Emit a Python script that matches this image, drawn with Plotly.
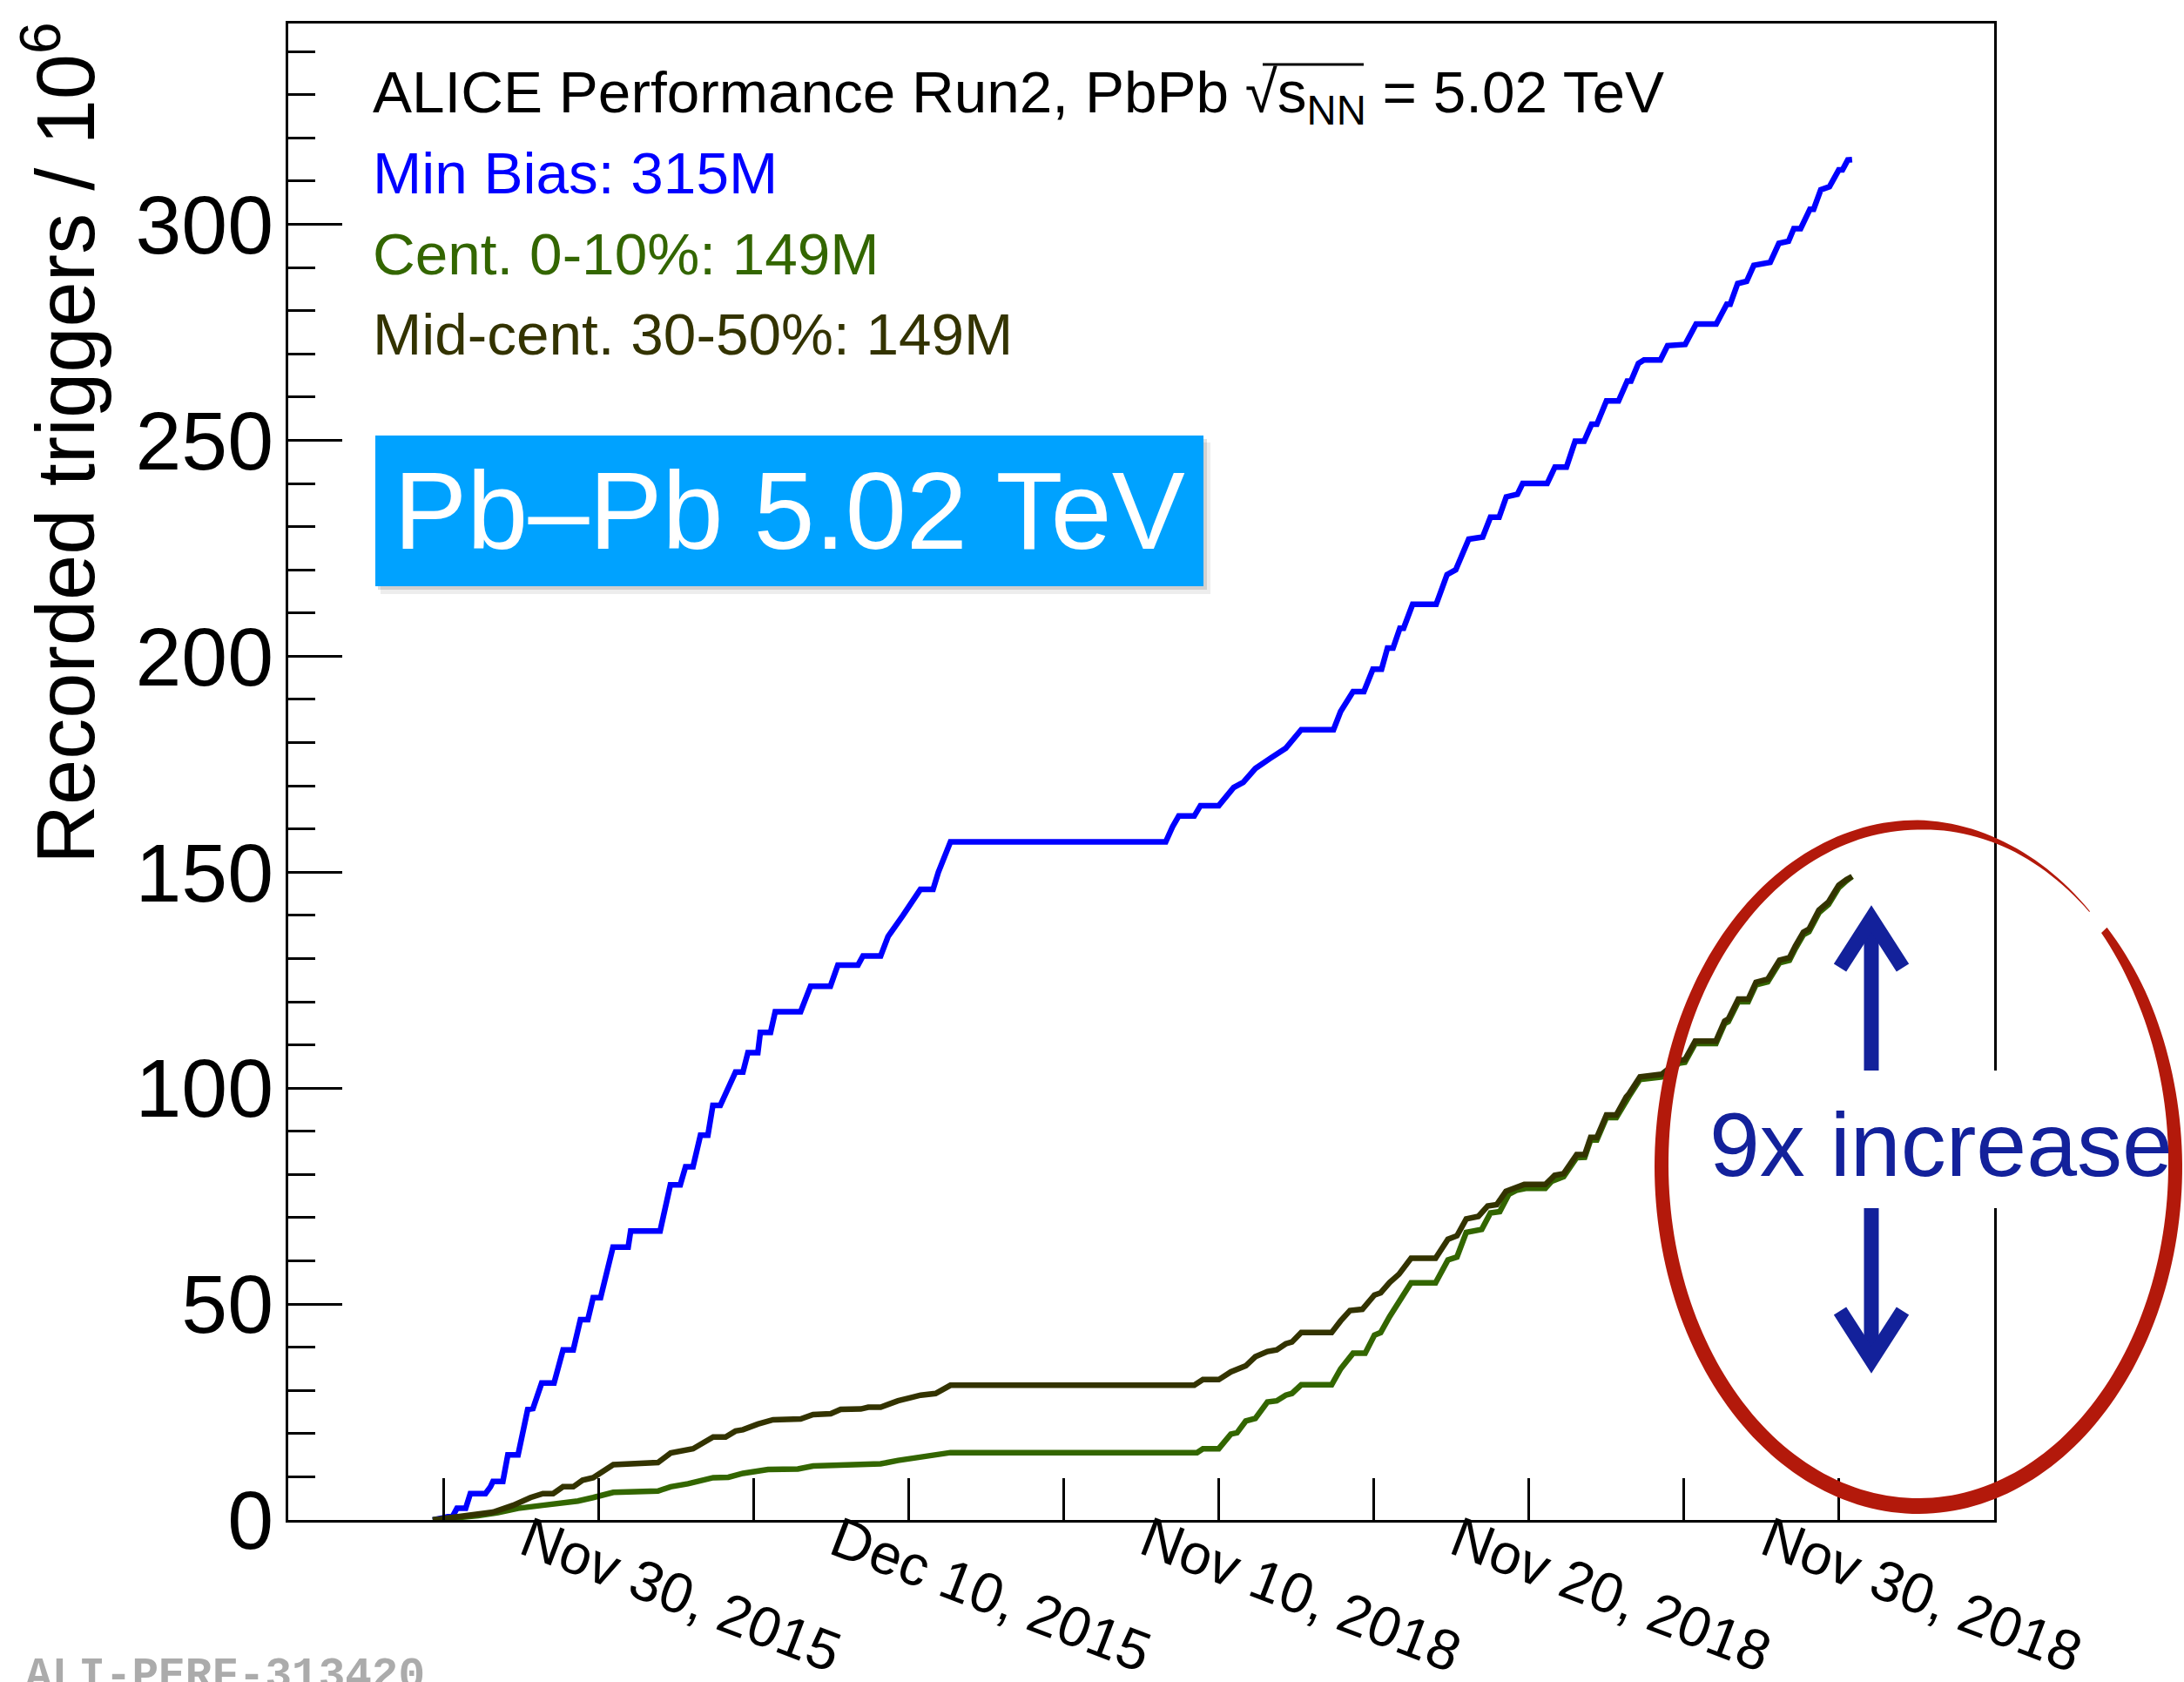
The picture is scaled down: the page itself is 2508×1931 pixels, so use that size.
import math
import plotly.graph_objects as go

# ---------------------------------------------------------------------------
# Time axis in "display days": day 0 = Nov 25 2015, 5 days per major tick.
# The shutdown between the 2015 and 2018 Pb-Pb runs is compressed so that
# Nov 10 2018 sits on day 25.
# ---------------------------------------------------------------------------
tick_days = [0, 5, 10, 15, 20, 25, 30, 35, 40, 45]
label_days = [5, 15, 25, 35, 45]
date_labels = ["Nov 30, 2015", "Dec 10, 2015", "Nov 10, 2018",
               "Nov 20, 2018", "Nov 30, 2018"]

# Min. bias triggers (10^6)
mb_day = [-0.34, -0.01, 0.31, 0.44, 0.72, 0.87, 1.36, 1.52, 1.6, 1.92, 2.08, 2.41,
          2.72, 2.89, 3.17, 3.57, 3.86, 4.19, 4.42, 4.66, 4.83, 5.07, 5.47, 5.96,
          6.04, 6.99, 7.32, 7.64, 7.81, 8.05, 8.29, 8.53, 8.69, 8.93, 9.42, 9.66,
          9.82, 10.14, 10.22, 10.55, 10.7, 11.52, 11.84, 12.48, 12.72, 13.37, 13.53,
          14.1, 14.34, 14.82, 15.38, 15.79, 15.96, 16.35,
          23.29, 23.51, 23.71, 24.21, 24.41, 25.0, 25.2, 25.48, 25.79, 26.18, 26.67,
          27.16, 27.66, 28.7, 28.93, 29.33, 29.68, 29.97, 30.25, 30.44, 30.62, 30.84,
          30.96, 31.25, 32.01, 32.36, 32.64, 33.06, 33.51, 33.76, 34.04, 34.27, 34.63,
          34.8, 35.59, 35.84, 36.21, 36.49, 36.78, 37.02, 37.19, 37.5, 37.89, 38.17,
          38.29, 38.53, 38.71, 39.24, 39.47, 40.04, 40.39, 41.04, 41.38, 41.49, 41.73,
          42.02, 42.25, 42.78, 43.06, 43.37, 43.54, 43.76, 44.06, 44.18, 44.41, 44.69,
          44.99, 45.11, 45.28, 45.42]
mb_trig = [0.0, 0.4, 1.0, 2.7, 2.7, 6.1, 6.1, 7.7, 8.9, 8.9, 15.1, 15.1,
           25.6, 25.8, 31.7, 31.7, 39.4, 39.4, 46.4, 46.4, 51.5, 51.5, 63.2, 63.2,
           66.9, 66.9, 77.6, 77.6, 81.8, 81.8, 89.1, 89.1, 96.0, 96.0, 103.7, 103.7,
           108.2, 108.2, 112.9, 112.9, 117.7, 117.7, 123.6, 123.6, 128.5, 128.5, 130.6,
           130.6, 135.1, 140.0, 146.0, 146.0, 150.0, 157.0,
           157.0, 160.5, 163.0, 163.0, 165.4, 165.4, 167.0, 169.6, 170.8, 174.0, 176.4,
           178.7, 183.0, 183.0, 187.2, 191.8, 191.8, 197.0, 197.0, 201.9, 201.9, 206.5,
           206.5, 212.0, 212.0, 218.9, 220.0, 227.1, 227.6, 232.2, 232.2, 236.9, 237.5,
           240.0, 240.0, 243.8, 243.8, 249.8, 249.8, 253.7, 253.7, 259.1, 259.1, 263.7,
           263.7, 267.8, 268.6, 268.6, 271.9, 272.2, 276.9, 276.9, 281.5, 281.5, 286.3,
           286.8, 290.5, 291.2, 295.6, 296.1, 299.0, 299.0, 303.5, 303.5, 308.0, 308.7,
           312.6, 312.6, 314.9, 315.0]

# Central 0-10% triggers (10^6)
cent_day = [-0.34, 0.48, 1.12, 1.76, 2.41, 3.21, 3.86, 4.34, 4.83, 5.48, 6.92, 7.33,
            7.89, 8.7, 9.19, 9.66, 10.47, 11.43, 11.92, 12.89, 13.54, 14.1, 14.66,
            15.48, 15.87, 16.35,
            24.3, 24.49, 25.0, 25.39, 25.59, 25.87, 26.18, 26.57, 26.87, 27.16, 27.36,
            27.66, 28.64, 28.93, 29.33, 29.72, 30.02, 30.22, 30.51, 30.81, 31.2, 31.99,
            32.39, 32.68, 32.98, 33.48, 33.76, 34.06, 34.35, 34.62, 34.9, 35.53, 35.73,
            36.12, 36.54, 36.8, 36.99, 37.19, 37.5, 37.82, 38.14, 38.23, 38.58, 39.28,
            39.85, 40.03, 40.36, 41.03, 41.31, 41.43, 41.75, 42.07, 42.32, 42.7, 43.08,
            43.4, 43.59, 43.85, 44.03, 44.35, 44.66, 44.99, 45.24, 45.42]
cent_trig = [0.0, 0.5, 1.0, 1.7, 2.7, 3.4, 4.0, 4.4, 5.2, 6.4, 6.7, 7.7,
             8.4, 9.8, 9.9, 10.8, 11.7, 11.8, 12.5, 12.7, 12.8, 13.0, 13.8,
             14.7, 14.8, 15.6,
             15.6, 16.5, 16.5, 19.9, 20.2, 22.9, 23.5, 27.3, 27.6, 28.9, 29.3,
             31.3, 31.3, 35.0, 38.6, 38.6, 42.8, 43.4, 47.1, 50.5, 54.9, 54.9,
             60.2, 60.9, 66.6, 67.3, 71.1, 71.4, 75.4, 76.4, 76.8, 76.8, 78.4,
             79.5, 83.9, 84.0, 88.0, 88.0, 93.2, 93.2, 97.4, 98.1, 102.0, 102.6,
             105.8, 106.0, 110.3, 110.3, 114.9, 115.4, 120.0, 120.0, 123.9, 124.6, 129.0,
             129.6, 132.3, 135.5, 136.2, 140.6, 142.5, 146.4, 148.0, 149.0]

# Mid-central 30-50% triggers (10^6)
mid_day = [-0.34, 0.31, 0.79, 1.28, 1.6, 2.25, 2.81, 3.21, 3.54, 3.86, 4.19, 4.49,
           4.83, 5.48, 6.92, 7.33, 7.72, 8.05, 8.7, 9.1, 9.42, 9.66, 10.14, 10.63,
           11.52, 11.92, 12.49, 12.81, 13.46, 13.7, 14.1, 14.66, 15.06, 15.39, 15.87,
           16.35,
           24.21, 24.49, 25.0, 25.39, 25.87, 26.18, 26.57, 26.87, 27.16, 27.36, 27.66,
           28.64, 28.93, 29.23, 29.63, 30.02, 30.22, 30.51, 30.81, 31.2, 31.99, 32.39,
           32.68, 32.98, 33.37, 33.67, 33.96, 34.26, 34.85, 35.53, 35.83, 36.12, 36.54,
           36.8, 36.99, 37.19, 37.5, 37.82, 38.14, 38.23, 38.58, 39.28, 39.85, 40.03,
           40.36, 41.03, 41.31, 41.43, 41.75, 42.07, 42.32, 42.7, 43.08, 43.4, 43.59,
           43.85, 44.03, 44.35, 44.66, 44.99, 45.24, 45.42]
mid_trig = [0.0, 0.5, 1.0, 1.55, 1.8, 3.4, 5.2, 6.1, 6.1, 7.7, 7.7, 9.2,
            9.8, 12.8, 13.3, 15.5, 16.0, 16.5, 19.2, 19.2, 20.6, 20.9, 22.2, 23.2,
            23.4, 24.4, 24.6, 25.6, 25.7, 26.1, 26.1, 27.6, 28.3, 28.9, 29.3,
            31.2,
            31.2, 32.5, 32.5, 34.3, 35.7, 37.8, 39.0, 39.4, 40.8, 41.2, 43.4,
            43.4, 46.1, 48.5, 48.8, 52.1, 52.6, 55.0, 56.9, 60.6, 60.6, 65.0,
            65.8, 69.7, 70.3, 72.7, 73.0, 76.1, 77.7, 77.7, 79.8, 80.2, 84.6,
            84.6, 88.6, 88.6, 93.8, 93.8, 98.0, 98.7, 102.6, 103.2, 106.4, 106.6,
            110.9, 110.9, 115.5, 116.0, 120.6, 120.6, 124.5, 125.2, 129.6, 130.2, 132.9,
            136.1, 136.8, 141.2, 143.1, 147.0, 148.3, 149.0]

BLUE = "#0000FF"
GREEN = "#336600"
OLIVE = "#333300"
NAVY = "#13219B"
RED = "#B3190B"

# Page geometry (pixels) used to place the free-standing decorations
W, H = 2508, 1931
ML, MR, MT, MB = 331, 218, 27, 186
PW, PH = W - ML - MR, H - MT - MB


def fx(px):
    return (px - ML) / PW


def fy(py):
    return (H - MB - py) / PH


fig = go.Figure()
fig.add_trace(go.Scatter(x=mb_day, y=mb_trig, mode="lines",
                         line=dict(color=BLUE, width=6.5), name="Min Bias"))
fig.add_trace(go.Scatter(x=cent_day, y=cent_trig, mode="lines",
                         line=dict(color=GREEN, width=6.5), name="Cent. 0-10%"))
fig.add_trace(go.Scatter(x=mid_day, y=mid_trig, mode="lines",
                         line=dict(color=OLIVE, width=6.5), name="Mid-cent. 30-50%"))

font_main = "Liberation Sans, Arial, Helvetica, sans-serif"

fig.update_xaxes(range=[-5, 50], tickmode="array", tickvals=tick_days,
                 showticklabels=False, ticks="inside", ticklen=48, tickwidth=3,
                 tickcolor="black", showgrid=False, zeroline=False,
                 showline=True, linewidth=3, linecolor="black", mirror=True)
fig.update_yaxes(range=[0, 346.5], tick0=0, dtick=50, ticks="inside", ticklen=62,
                 tickwidth=3, tickcolor="black", showgrid=False, zeroline=False,
                 showline=True, linewidth=3, linecolor="black", mirror=True,
                 tickfont=dict(size=95, color="black", family=font_main),
                 ticklabelstandoff=-5,
                 minor=dict(dtick=10, ticks="inside", ticklen=31, tickwidth=3,
                            tickcolor="black", showgrid=False))

annotations = []

# rotated date labels under the time axis
for d, lab in zip(label_days, date_labels):
    annotations.append(dict(x=d + 2.67, xref="x", y=fy(1830), yref="paper",
                            text=lab, textangle=21, showarrow=False,
                            xanchor="center", yanchor="middle", borderpad=0,
                            font=dict(size=65, color="black", family=font_main)))

# y-axis title
annotations.append(dict(x=fx(68), y=fy(509), xref="paper", yref="paper",
                        text="Recorded triggers / 10<sup>6</sup>", textangle=-90,
                        showarrow=False, xanchor="center", yanchor="middle",
                        font=dict(size=94, color="black", family=font_main)))

# header and trigger summary
legend_lines = [
    ("ALICE Performance Run2, PbPb \u221As<sub>NN</sub> = 5.02 TeV", "black", 110.0),
    ("Min Bias: 315M", BLUE, 198.5),
    ("Cent. 0-10%: 149M", GREEN, 291.5),
    ("Mid-cent. 30-50%: 149M", OLIVE, 383.5),
]
for txt, col, yc in legend_lines:
    annotations.append(dict(x=fx(426), y=fy(yc), xref="paper", yref="paper",
                            text=txt, showarrow=False, xanchor="left",
                            yanchor="middle",
                            font=dict(size=67.5, color=col, family=font_main)))

# collision system badge
annotations.append(dict(x=fx(906.5), y=fy(586.5), xref="paper", yref="paper",
                        text="Pb\u2013Pb 5.02 TeV", showarrow=False,
                        xanchor="center", yanchor="middle",
                        width=951, height=173, borderpad=0, borderwidth=0,
                        bgcolor="#00A2FF",
                        font=dict(size=126, color="white", family=font_main)))

# ratio callout
annotations.append(dict(x=fx(2229), y=fy(1314), xref="paper", yref="paper",
                        text="9x increase", showarrow=False,
                        xanchor="center", yanchor="middle",
                        font=dict(size=104, color=NAVY, family=font_main)))

# figure identifier
annotations.append(dict(x=fx(27), y=fy(1924.5), xref="paper", yref="paper",
                        text="<b>ALI-PERF-313420</b>", showarrow=False,
                        xanchor="left", yanchor="middle",
                        font=dict(size=51, color="#ABABAB",
                                  family="Liberation Mono, Courier New, monospace")))

shapes = []


def rect(x0, y0, x1, y1, color):
    return dict(type="rect", xref="paper", yref="paper", x0=fx(x0), x1=fx(x1),
                y0=fy(y1), y1=fy(y0), fillcolor=color, line=dict(width=0),
                layer="above")


# soft drop shadow behind the badge
shapes.append(rect(437, 508, 1390, 682, "rgba(0,0,0,0.07)"))
shapes.append(rect(434, 504, 1386, 677, "rgba(0,0,0,0.12)"))

# white gap in the frame behind the callout text
shapes.append(rect(1955, 1229, 2495, 1387, "white"))


def path(points, closed=False):
    s = "M " + " L ".join(f"{fx(px):.5f},{fy(py):.5f}" for px, py in points)
    return s + (" Z" if closed else "")


# hand-drawn red ring, stroke width varying along the loop
cx, cy, rx, ry = 2203, 1338, 295, 391
prof_a = [-43.7, -30, 0, 90, 180, 270, 290, 312]
prof_w = [9, 13, 16, 18, 16, 11, 5, 1]


def stroke_w(a):
    for i in range(len(prof_a) - 1):
        if prof_a[i] <= a <= prof_a[i + 1]:
            t = (a - prof_a[i]) / (prof_a[i + 1] - prof_a[i])
            return prof_w[i] + t * (prof_w[i + 1] - prof_w[i])
    return prof_w[-1]


outer, inner = [], []
a = prof_a[0]
while a <= prof_a[-1] + 1e-9:
    w = stroke_w(a)
    c, s = math.cos(math.radians(a)), math.sin(math.radians(a))
    outer.append((cx + (rx + w / 2) * c, cy + (ry + w / 2) * s))
    inner.append((cx + (rx - w / 2) * c, cy + (ry - w / 2) * s))
    a += 1.5
ring = outer + inner[::-1]
shapes.append(dict(type="path", xref="paper", yref="paper", path=path(ring, True),
                   fillcolor=RED, line=dict(width=0), layer="above"))

# double arrow split by the callout text
arrow_line = dict(color=NAVY, width=17)
shapes.append(dict(type="path", xref="paper", yref="paper",
                   path=path([(2149, 1229), (2149, 1060)]), line=arrow_line,
                   layer="above"))
shapes.append(dict(type="path", xref="paper", yref="paper",
                   path=path([(2113, 1111), (2149, 1055), (2185, 1111)]),
                   line=arrow_line, layer="above"))
shapes.append(dict(type="path", xref="paper", yref="paper",
                   path=path([(2149, 1387), (2149, 1556)]), line=arrow_line,
                   layer="above"))
shapes.append(dict(type="path", xref="paper", yref="paper",
                   path=path([(2113, 1505), (2149, 1561), (2185, 1505)]),
                   line=arrow_line, layer="above"))

# overline of the square root in the header
shapes.append(dict(type="line", xref="paper", yref="paper",
                   x0=fx(1450), x1=fx(1566), y0=fy(74), y1=fy(74),
                   line=dict(color="black", width=3), layer="above"))

fig.update_layout(width=W, height=H, autosize=False,
                  margin=dict(l=ML, r=MR, t=MT, b=MB, pad=0),
                  paper_bgcolor="white", plot_bgcolor="white",
                  showlegend=False, font=dict(family=font_main, color="black"),
                  annotations=annotations, shapes=shapes)

fig.write_html("out.html")
